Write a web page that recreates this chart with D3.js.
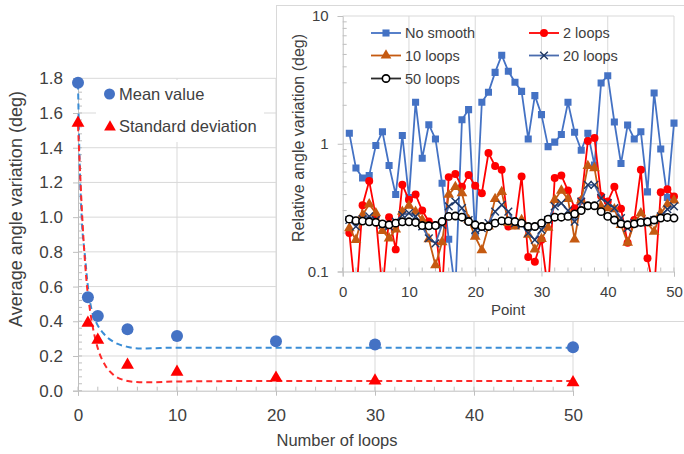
<!DOCTYPE html>
<html>
<head>
<meta charset="utf-8">
<script src="https://cdn.jsdelivr.net/npm/d3@7"></script>
<style>
  html, body { margin: 0; padding: 0; background: #fff; }
  svg { display: block; font-family: "Liberation Sans", Arial, sans-serif; }
</style>
</head>
<body>
<svg id="chart" width="684" height="454"></svg>
<script>
// ─── Data: main chart ─────────────────────────────────────────────────────────

const loops = [0, 1, 2, 5, 10, 20, 30, 50];
const meanValue = [1.775, 0.538, 0.43, 0.354, 0.315, 0.285, 0.266, 0.25];
const stdDev = [1.543, 0.39, 0.292, 0.148, 0.108, 0.074, 0.057, 0.047];

// fitted curves (dashed)
const meanFitX = [0, 0.15, 0.37, 0.71, 1.04, 1.38, 1.89, 2.56, 3.57, 4.9, 6.3, 8.3, 10, 20, 30, 40, 50];
const meanFitY = [1.77, 1.35, 1.0, 0.772, 0.58, 0.465, 0.388, 0.331, 0.282, 0.254, 0.243, 0.246, 0.248, 0.248, 0.248, 0.248, 0.248];
const stdFitX = [0, 0.2, 0.54, 0.88, 1.21, 1.55, 2.05, 2.73, 3.57, 4.58, 5.9, 7.3, 10, 20, 30, 40, 50];
const stdFitY = [1.53, 1.27, 0.888, 0.619, 0.465, 0.35, 0.235, 0.148, 0.092, 0.062, 0.05, 0.048, 0.053, 0.056, 0.056, 0.056, 0.056];

const mainYTicks = [0, 0.2, 0.4, 0.6, 0.8, 1.0, 1.2, 1.4, 1.6, 1.8];
const mainXTicks = [0, 10, 20, 30, 40, 50];

// ─── Data: inset chart ────────────────────────────────────────────────────────

const points = d3.range(1, 51);
const noSmooth = [1.21, 0.645, 0.54, 0.565, 0.97, 1.24, 0.676, 0.40, 1.16, 0.38,
  2.11, 0.77, 1.41, 1.09, 0.49, 0.179, 0.07, 1.54, 1.85, 0.193,
  2.11, 2.53, 3.62, 4.93, 3.69, 3.03, 2.57, 1.09, 2.38, 1.69,
  0.95, 1.03, 1.18, 2.11, 1.23, 0.89, 1.21, 0.68, 2.99, 3.41,
  1.48, 0.70, 1.40, 1.09, 1.24, 0.42, 2.50, 0.91, 0.38, 1.45];
const loops2 = [0.20, 0.06, 0.33, 0.51, 0.27, 0.07, 0.266, 0.149, 0.477, 0.364,
  0.40, 0.30, 0.246, 0.23, 0.07, 0.548, 0.58, 0.46, 0.57, 0.47,
  0.41, 0.845, 0.67, 0.625, 0.225, 0.23, 0.554, 0.13, 0.119, 0.177,
  0.07, 0.54, 0.565, 0.43, 0.313, 0.36, 1.05, 1.11, 0.39, 0.353,
  0.46, 0.31, 0.168, 0.253, 0.625, 0.127, 0.07, 0.418, 0.44, 0.386];
const loops10 = [0.218, 0.177, 0.277, 0.336, 0.286, 0.208, 0.182, 0.214, 0.294, 0.327,
  0.294, 0.253, 0.179, 0.112, 0.17, 0.40, 0.46, 0.41, 0.253, 0.187,
  0.147, 0.225, 0.37, 0.42, 0.24, 0.225, 0.253, 0.194, 0.149, 0.18,
  0.22, 0.364, 0.43, 0.37, 0.178, 0.36, 0.67, 0.645, 0.323, 0.313,
  0.307, 0.232, 0.168, 0.239, 0.286, 0.239, 0.205, 0.286, 0.335, 0.36];
const loops20 = [0.253, 0.225, 0.257, 0.27, 0.253, 0.232, 0.225, 0.246, 0.277, 0.286,
  0.27, 0.225, 0.182, 0.166, 0.232, 0.323, 0.353, 0.313, 0.253, 0.212,
  0.218, 0.239, 0.294, 0.332, 0.294, 0.239, 0.232, 0.20, 0.177, 0.212,
  0.253, 0.323, 0.343, 0.30, 0.246, 0.353, 0.477, 0.477, 0.375, 0.343,
  0.313, 0.262, 0.218, 0.239, 0.241, 0.246, 0.253, 0.27, 0.307, 0.323];
const loops50 = [0.257, 0.25, 0.248, 0.245, 0.243, 0.236, 0.232, 0.239, 0.245, 0.245,
  0.242, 0.229, 0.228, 0.229, 0.246, 0.27, 0.272, 0.266, 0.246, 0.232,
  0.225, 0.225, 0.239, 0.249, 0.249, 0.246, 0.239, 0.225, 0.225, 0.239,
  0.257, 0.266, 0.266, 0.27, 0.282, 0.30, 0.327, 0.327, 0.294, 0.27,
  0.253, 0.236, 0.232, 0.236, 0.242, 0.245, 0.253, 0.262, 0.265, 0.262];

const insetXTicks = [0, 10, 20, 30, 40, 50];
const insetYTicks = [0.1, 1, 10];

// ─── Setup ────────────────────────────────────────────────────────────────────

const svg = d3.select("#chart");
const gridColor = "#d9d9d9";
const axisColor = "#bfbfbf";
const textColor = "#404040";

svg.append("rect").attr("width", 684).attr("height", 454).attr("fill", "#fff");

// ─── Main chart ───────────────────────────────────────────────────────────────

const main = { left: 78, right: 573, top: 78.3, bottom: 390.7 };
const x = d3.scaleLinear().domain([0, 50]).range([main.left, main.right]);
const y = d3.scaleLinear().domain([0, 1.8]).range([main.bottom, main.top]);

const mg = svg.append("g");

// grid
mg.selectAll(".hgrid")
  .data(mainYTicks.filter(d => d > 0))
  .join("line")
  .attr("x1", main.left).attr("x2", main.right)
  .attr("y1", d => y(d)).attr("y2", d => y(d))
  .attr("stroke", gridColor);

mg.selectAll(".vgrid")
  .data(mainXTicks.filter(d => d > 0))
  .join("line")
  .attr("x1", d => x(d)).attr("x2", d => x(d))
  .attr("y1", main.top).attr("y2", main.bottom)
  .attr("stroke", gridColor);

// minor ticks
mg.selectAll(".yminor")
  .data(d3.range(0, 1.8001, 0.04))
  .join("line")
  .attr("x1", main.left).attr("x2", main.left + 4)
  .attr("y1", d => y(d)).attr("y2", d => y(d))
  .attr("stroke", axisColor);
mg.selectAll(".xminor")
  .data(d3.range(0, 50.001, 2))
  .join("line")
  .attr("x1", d => x(d)).attr("x2", d => x(d))
  .attr("y1", main.bottom - 4).attr("y2", main.bottom)
  .attr("stroke", axisColor);

// axes
const yAxis = mg.append("g")
  .attr("transform", `translate(${main.left},0)`)
  .call(d3.axisLeft(y).tickValues(mainYTicks).tickFormat(d3.format(".1f")).tickSize(5).tickPadding(10));
const xAxis = mg.append("g")
  .attr("transform", `translate(0,${main.bottom})`)
  .call(d3.axisBottom(x).tickValues(mainXTicks).tickSize(5).tickPadding(13));
[yAxis, xAxis].forEach(a => {
  a.select(".domain").attr("stroke", axisColor);
  a.selectAll(".tick line").attr("stroke", axisColor);
  a.selectAll(".tick text")
    .attr("fill", textColor)
    .attr("font-size", "17px")
    .attr("font-family", "Liberation Sans, Arial, sans-serif");
});

// axis titles
mg.append("text")
  .attr("transform", "translate(22,209) rotate(-90)")
  .attr("text-anchor", "middle")
  .attr("fill", textColor)
  .attr("font-size", "18px")
  .text("Average angle variation (deg)");

mg.append("text")
  .attr("x", 337).attr("y", 446)
  .attr("text-anchor", "middle")
  .attr("fill", textColor)
  .attr("font-size", "16.5px")
  .text("Number of loops");

// fitted curves
const fitLine = d3.line()
  .x(d => x(d[0]))
  .y(d => y(d[1]))
  .curve(d3.curveMonotoneX);

mg.append("path")
  .attr("d", fitLine(meanFitX.map((v, i) => [v, meanFitY[i]])))
  .attr("fill", "none")
  .attr("stroke", "#3a8dd6")
  .attr("stroke-width", 2)
  .attr("stroke-dasharray", "6,4");

mg.append("path")
  .attr("d", fitLine(stdFitX.map((v, i) => [v, stdFitY[i]])))
  .attr("fill", "none")
  .attr("stroke", "#ff2a2a")
  .attr("stroke-width", 2)
  .attr("stroke-dasharray", "6,4");

// markers
mg.selectAll(".mean")
  .data(loops)
  .join("circle")
  .attr("cx", d => x(d))
  .attr("cy", (d, i) => y(meanValue[i]))
  .attr("r", 6)
  .attr("fill", "#4472c4");

const tri = d3.symbol().type(d3.symbolTriangle).size(72);
mg.selectAll(".std")
  .data(loops)
  .join("path")
  .attr("d", tri)
  .attr("transform", (d, i) => `translate(${x(d)},${y(stdDev[i])})`)
  .attr("fill", "#ff0000");

// legend
mg.append("rect")
  .attr("x", 96).attr("y", 80).attr("width", 168).attr("height", 62)
  .attr("fill", "#fff");
mg.append("circle").attr("cx", 109.5).attr("cy", 94).attr("r", 5.5).attr("fill", "#4472c4");
mg.append("text").attr("x", 119).attr("y", 100)
  .attr("fill", textColor).attr("font-size", "16.5px").text("Mean value");
mg.append("path").attr("d", d3.symbol().type(d3.symbolTriangle).size(60))
  .attr("transform", "translate(110,127)").attr("fill", "#ff0000");
mg.append("text").attr("x", 119).attr("y", 132)
  .attr("fill", textColor).attr("font-size", "16.5px").text("Standard deviation");

// ─── Inset chart ──────────────────────────────────────────────────────────────

const ig = svg.append("g");
ig.append("rect")
  .attr("x", 276.5).attr("y", 5.5).attr("width", 420).attr("height", 316)
  .attr("fill", "#fff")
  .attr("stroke", gridColor);

const inset = { left: 342.7, right: 674, top: 16, bottom: 271.5 };
const ix = d3.scaleLinear().domain([0, 50]).range([inset.left, inset.right]);
const iy = d3.scaleLog().domain([0.1, 10]).range([inset.bottom, inset.top]);

ig.append("clipPath").attr("id", "inset-clip")
  .append("rect")
  .attr("x", inset.left).attr("y", inset.top)
  .attr("width", inset.right - inset.left + 6)
  .attr("height", inset.bottom - inset.top + 0.5);

// grid
ig.append("line")
  .attr("x1", inset.left).attr("x2", inset.right)
  .attr("y1", iy(1)).attr("y2", iy(1))
  .attr("stroke", gridColor);
ig.append("line")
  .attr("x1", inset.left).attr("x2", inset.right)
  .attr("y1", iy(10)).attr("y2", iy(10))
  .attr("stroke", gridColor);
ig.selectAll(".ivgrid")
  .data(insetXTicks.filter(d => d > 0))
  .join("line")
  .attr("x1", d => ix(d)).attr("x2", d => ix(d))
  .attr("y1", inset.top).attr("y2", inset.bottom)
  .attr("stroke", gridColor);

// minor ticks
const logMinor = [0.2, 0.3, 0.4, 0.5, 0.6, 0.7, 0.8, 0.9, 2, 3, 4, 5, 6, 7, 8, 9];
ig.selectAll(".iyminor")
  .data(logMinor)
  .join("line")
  .attr("x1", inset.left).attr("x2", inset.left + 4)
  .attr("y1", d => iy(d)).attr("y2", d => iy(d))
  .attr("stroke", axisColor);
ig.selectAll(".ixminor")
  .data(d3.range(0, 50.001, 2))
  .join("line")
  .attr("x1", d => ix(d)).attr("x2", d => ix(d))
  .attr("y1", inset.bottom - 4).attr("y2", inset.bottom)
  .attr("stroke", axisColor);

const iyAxis = ig.append("g")
  .attr("transform", `translate(${inset.left},0)`)
  .call(d3.axisLeft(iy).tickValues(insetYTicks).tickFormat(d => d).tickSize(5).tickPadding(9));
const ixAxis = ig.append("g")
  .attr("transform", `translate(0,${inset.bottom})`)
  .call(d3.axisBottom(ix).tickValues(insetXTicks).tickSize(5).tickPadding(10));
[iyAxis, ixAxis].forEach(a => {
  a.select(".domain").attr("stroke", axisColor);
  a.selectAll(".tick line").attr("stroke", axisColor);
  a.selectAll(".tick text")
    .attr("fill", textColor)
    .attr("font-size", "15px")
    .attr("font-family", "Liberation Sans, Arial, sans-serif");
});

ig.append("text")
  .attr("transform", "translate(304,138) rotate(-90)")
  .attr("text-anchor", "middle")
  .attr("fill", textColor)
  .attr("font-size", "16px")
  .text("Relative angle variation (deg)");
ig.append("text")
  .attr("x", 508).attr("y", 315)
  .attr("text-anchor", "middle")
  .attr("fill", textColor)
  .attr("font-size", "15px")
  .text("Point");

// series
const series = [
  { name: "No smooth", values: noSmooth, line: "#4472c4", marker: "square", fill: "#4472c4", stroke: "none" },
  { name: "2 loops", values: loops2, line: "#ff0000", marker: "circle", fill: "#ff0000", stroke: "none" },
  { name: "10 loops", values: loops10, line: "#c55a11", marker: "triangle", fill: "#c55a11", stroke: "none" },
  { name: "20 loops", values: loops20, line: "#4a6cae", marker: "x", fill: "none", stroke: "#203864" },
  { name: "50 loops", values: loops50, line: "#2b2b2b", marker: "ring", fill: "#fff", stroke: "#000" },
];

function markerPath(type) {
  if (type === "square") return d3.symbol().type(d3.symbolSquare).size(50)();
  if (type === "circle") return d3.symbol().type(d3.symbolCircle).size(50)();
  if (type === "triangle") return d3.symbol().type(d3.symbolTriangle).size(50)();
  if (type === "x") return d3.symbol().type(d3.symbolX).size(40)();
  return d3.symbol().type(d3.symbolCircle).size(42)();
}

const iline = d3.line()
  .x((d, i) => ix(points[i]))
  .y(d => iy(d));

const plot = ig.append("g").attr("clip-path", "url(#inset-clip)");

series.forEach(s => {
  const g = plot.append("g");
  g.append("path")
    .attr("d", iline(s.values))
    .attr("fill", "none")
    .attr("stroke", s.line)
    .attr("stroke-width", 1.8);
  g.selectAll("path.m")
    .data(s.values)
    .join("path")
    .attr("class", "m")
    .attr("d", markerPath(s.marker))
    .attr("transform", (d, i) => `translate(${ix(points[i])},${iy(d)})`)
    .attr("fill", s.fill)
    .attr("stroke", s.stroke)
    .attr("stroke-width", s.marker === "ring" ? 1.6 : 1.4);
});

// inset legend
const legendPos = [[371, 33], [529, 33], [371, 55.5], [529, 55.5], [371, 78.5]];
series.forEach((s, i) => {
  const [lx, ly] = legendPos[i];
  const g = ig.append("g");
  g.append("line")
    .attr("x1", lx).attr("x2", lx + 30)
    .attr("y1", ly).attr("y2", ly)
    .attr("stroke", s.line).attr("stroke-width", 1.8);
  g.append("path")
    .attr("d", markerPath(s.marker))
    .attr("transform", `translate(${lx + 15},${ly})`)
    .attr("fill", s.fill)
    .attr("stroke", s.stroke)
    .attr("stroke-width", s.marker === "ring" ? 1.6 : 1.4);
  g.append("text")
    .attr("x", lx + 34).attr("y", ly + 5)
    .attr("fill", textColor)
    .attr("font-size", "14.5px")
    .text(s.name);
});
</script>
</body>
</html>
